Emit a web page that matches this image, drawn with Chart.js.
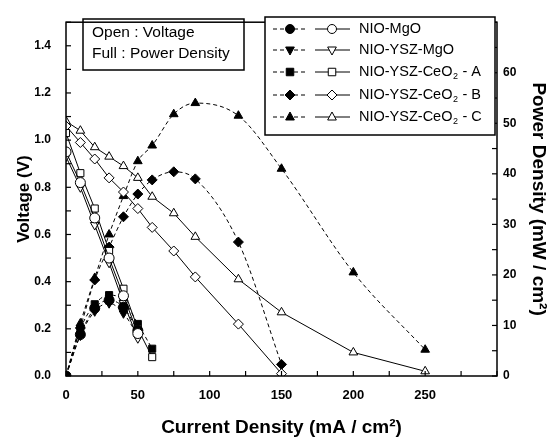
<!DOCTYPE html>
<html>
<head>
<meta charset="utf-8">
<script src="https://cdn.jsdelivr.net/npm/chart.js@4"></script>
<style>
  html, body { margin: 0; padding: 0; background: #fff; }
  #wrap { width: 550px; height: 439px; }
</style>
</head>
<body>
<div id="wrap"><canvas id="fuelCell" width="550" height="439"></canvas></div>
<script>
// current density (mA/cm2), voltage (V), power density (mW/cm2)
const mgoI = [0, 10, 20, 30, 40, 50];
const mgoV = [0.95, 0.82, 0.67, 0.50, 0.34, 0.18];
const mgoP = [0, 8.2, 13.4, 15.0, 13.6, 9.0];

const yszMgoI = [0, 10, 20, 30, 40, 50];
const yszMgoV = [0.93, 0.80, 0.64, 0.48, 0.31, 0.16];
const yszMgoP = [0, 8.0, 12.8, 14.4, 12.4, 8.0];

const ceoAI = [0, 10, 20, 30, 40, 50, 60];
const ceoAV = [1.03, 0.86, 0.71, 0.53, 0.37, 0.20, 0.08];
const ceoAP = [0, 9.3, 14.2, 16.0, 15.0, 10.3, 5.4];

const ceoBI = [0, 10, 20, 30, 40, 50, 60, 75, 90, 120, 150];
const ceoBV = [1.06, 0.99, 0.92, 0.84, 0.78, 0.71, 0.63, 0.53, 0.42, 0.22, 0.01];
const ceoBP = [0, 9.5, 19.0, 25.5, 31.5, 36.0, 38.8, 40.4, 39.0, 26.5, 2.3];

const ceoCI = [0, 10, 20, 30, 40, 50, 60, 75, 90, 120, 150, 200, 250];
const ceoCV = [1.08, 1.04, 0.97, 0.93, 0.89, 0.84, 0.76, 0.69, 0.59, 0.41, 0.27, 0.10, 0.02];
const ceoCP = [0, 10.4, 19.4, 28.0, 35.6, 42.5, 45.6, 51.8, 54.0, 51.5, 41.0, 20.5, 5.2];

const seriesNames = ['NIO-MgO', 'NIO-YSZ-MgO', 'NIO-YSZ-CeO|2| - A', 'NIO-YSZ-CeO|2| - B', 'NIO-YSZ-CeO|2| - C'];
const markers = [
    { style: 'circle', rot: 0 },
    { style: 'triangle', rot: 180 },
    { style: 'rect', rot: 0 },
    { style: 'rectRot', rot: 0 },
    { style: 'triangle', rot: 0 }
];

const seriesData = [
    [mgoI, mgoV, mgoP],
    [yszMgoI, yszMgoV, yszMgoP],
    [ceoAI, ceoAV, ceoAP],
    [ceoBI, ceoBV, ceoBP],
    [ceoCI, ceoCV, ceoCP]
];

const datasets = [];
seriesData.forEach((s, k) => {
    const [cur, volt, pow] = s;
    const m = markers[k];
    datasets.push({
        label: seriesNames[k] + ' voltage',
        data: cur.map((x, i) => ({ x: x, y: volt[i] })),
        yAxisID: 'y',
        borderColor: '#000',
        borderWidth: 1,
        backgroundColor: '#fff',
        pointStyle: m.style,
        rotation: m.rot,
        pointRadius: 5,
        pointBorderWidth: 1,
        tension: 0
    });
    datasets.push({
        label: seriesNames[k] + ' power',
        data: cur.map((x, i) => ({ x: x, y: pow[i] })),
        yAxisID: 'y2',
        borderColor: '#000',
        borderWidth: 1,
        borderDash: [4, 3],
        backgroundColor: '#000',
        pointStyle: m.style,
        rotation: m.rot,
        pointRadius: 5,
        pointBorderWidth: 1,
        cubicInterpolationMode: 'monotone'
    });
});

function drawMarker(ctx, style, rot, x, y, r, filled) {
    ctx.save();
    ctx.translate(x, y);
    ctx.rotate(rot * Math.PI / 180);
    ctx.beginPath();
    if (style === 'circle') {
        ctx.arc(0, 0, r * 0.9, 0, Math.PI * 2);
    } else if (style === 'rect') {
        ctx.rect(-r * 0.75, -r * 0.75, r * 1.5, r * 1.5);
    } else if (style === 'rectRot') {
        ctx.moveTo(0, -r); ctx.lineTo(r, 0); ctx.lineTo(0, r); ctx.lineTo(-r, 0); ctx.closePath();
    } else {
        ctx.moveTo(0, -r); ctx.lineTo(r * 0.87, r * 0.6); ctx.lineTo(-r * 0.87, r * 0.6); ctx.closePath();
    }
    ctx.fillStyle = filled ? '#000' : '#fff';
    ctx.fill();
    ctx.lineWidth = 1;
    ctx.strokeStyle = '#000';
    ctx.stroke();
    ctx.restore();
}

const textFamily = '"Liberation Sans", Arial, sans-serif';

const framePlugin = {
    id: 'frame',
    afterDraw(chart) {
        const ctx = chart.ctx;
        const a = chart.chartArea;
        ctx.save();
        ctx.strokeStyle = '#000';
        ctx.lineWidth = 1.5;
        ctx.strokeRect(a.left, a.top, a.right - a.left, a.bottom - a.top);

        // inward tick marks
        ctx.lineWidth = 1.2;
        const sx = chart.scales.x, sy = chart.scales.y, sy2 = chart.scales.y2;
        sx.ticks.forEach(t => {
            const p = sx.getPixelForValue(t.value);
            ctx.beginPath(); ctx.moveTo(p, a.bottom); ctx.lineTo(p, a.bottom - 5); ctx.stroke();
        });
        sy.ticks.forEach(t => {
            const p = sy.getPixelForValue(t.value);
            ctx.beginPath(); ctx.moveTo(a.left, p); ctx.lineTo(a.left + 5, p); ctx.stroke();
        });
        sy2.ticks.forEach(t => {
            const p = sy2.getPixelForValue(t.value);
            ctx.beginPath(); ctx.moveTo(a.right, p); ctx.lineTo(a.right - 5, p); ctx.stroke();
        });

        // note box
        ctx.lineWidth = 1.5;
        ctx.strokeRect(83, 19, 161, 51);
        ctx.fillStyle = '#000';
        ctx.font = '15.5px ' + textFamily;
        ctx.textBaseline = 'middle';
        ctx.textAlign = 'left';
        ctx.fillText('Open : Voltage', 92, 33);
        ctx.fillText('Full : Power Density', 92, 54);

        // legend box
        ctx.fillStyle = '#fff';
        ctx.fillRect(265, 17, 230, 118);
        ctx.strokeRect(265, 17, 230, 118);
        const rows = [29, 50, 72, 95, 117];
        rows.forEach((ry, k) => {
            const m = markers[k];
            ctx.lineWidth = 1;
            ctx.setLineDash([4, 3]);
            ctx.beginPath(); ctx.moveTo(273, ry); ctx.lineTo(306, ry); ctx.stroke();
            ctx.setLineDash([]);
            drawMarker(ctx, m.style, m.rot, 290, ry, 5, true);
            ctx.beginPath(); ctx.moveTo(315, ry); ctx.lineTo(350, ry); ctx.stroke();
            drawMarker(ctx, m.style, m.rot, 332, ry, 5, false);

            const parts = seriesNames[k].split('|');
            let x = 359;
            ctx.fillStyle = '#000';
            ctx.font = '14.5px ' + textFamily;
            ctx.fillText(parts[0], x, ry);
            x += ctx.measureText(parts[0]).width;
            if (parts.length > 1) {
                ctx.font = '9px ' + textFamily;
                ctx.fillText(parts[1], x + 0.5, ry + 5);
                x += ctx.measureText(parts[1]).width + 1;
                ctx.font = '14.5px ' + textFamily;
                ctx.fillText(parts[2], x, ry);
            }
        });
        ctx.restore();
    }
};

const tickFont = { family: textFamily, size: 13, weight: 'bold' };
const yTickFont = { family: textFamily, size: 12, weight: 'bold' };
const titleFont = { family: textFamily, size: 19, weight: 'bold' };

new Chart(document.getElementById('fuelCell').getContext('2d'), {
    type: 'line',
    data: { datasets: datasets },
    options: {
        responsive: false,
        animation: false,
        layout: { padding: { top: 14, left: 0, right: 0, bottom: 0 } },
        plugins: { legend: { display: false }, tooltip: { enabled: false } },
        scales: {
            x: {
                type: 'linear',
                min: 0, max: 300,
                grid: { display: false, drawTicks: false },
                border: { display: false },
                ticks: {
                    stepSize: 25, padding: 12, color: '#000', font: tickFont,
                    maxRotation: 0, autoSkip: false,
                    callback: v => (v % 50 === 0 && v < 300) ? String(v) : ''
                },
                title: { display: true, text: 'Current Density (mA / cm\u00B2)', color: '#000', font: titleFont, padding: { top: 0, bottom: 0 } },
                afterFit(scale) { scale.height = 63; }
            },
            y: {
                type: 'linear', position: 'left',
                min: 0, max: 1.5,
                grid: { display: false, drawTicks: false },
                border: { display: false },
                ticks: {
                    stepSize: 0.1, padding: 15, color: '#000', font: yTickFont, autoSkip: false,
                    callback: v => {
                        const r = Math.round(v * 10);
                        return (r % 2 === 0 && r < 15) ? (r / 10).toFixed(1) : '';
                    }
                },
                title: { display: true, text: 'Voltage (V)', color: '#000', font: { family: textFamily, size: 17, weight: 'bold' }, padding: { top: 14, bottom: 0 } },
                afterFit(scale) { scale.width = 66; }
            },
            y2: {
                type: 'linear', position: 'right',
                min: 0, max: 70,
                grid: { display: false, drawTicks: false },
                border: { display: false },
                ticks: {
                    stepSize: 5, padding: 6, color: '#000', font: yTickFont, autoSkip: false,
                    callback: v => (v % 10 === 0 && v < 70) ? String(v) : ''
                },
                title: { display: true, text: 'Power Density (mW / cm\u00B2)', color: '#000', font: titleFont, padding: { top: 0, bottom: 0 } },
                afterFit(scale) { scale.width = 53; }
            }
        }
    },
    plugins: [framePlugin]
});
</script>
</body>
</html>
